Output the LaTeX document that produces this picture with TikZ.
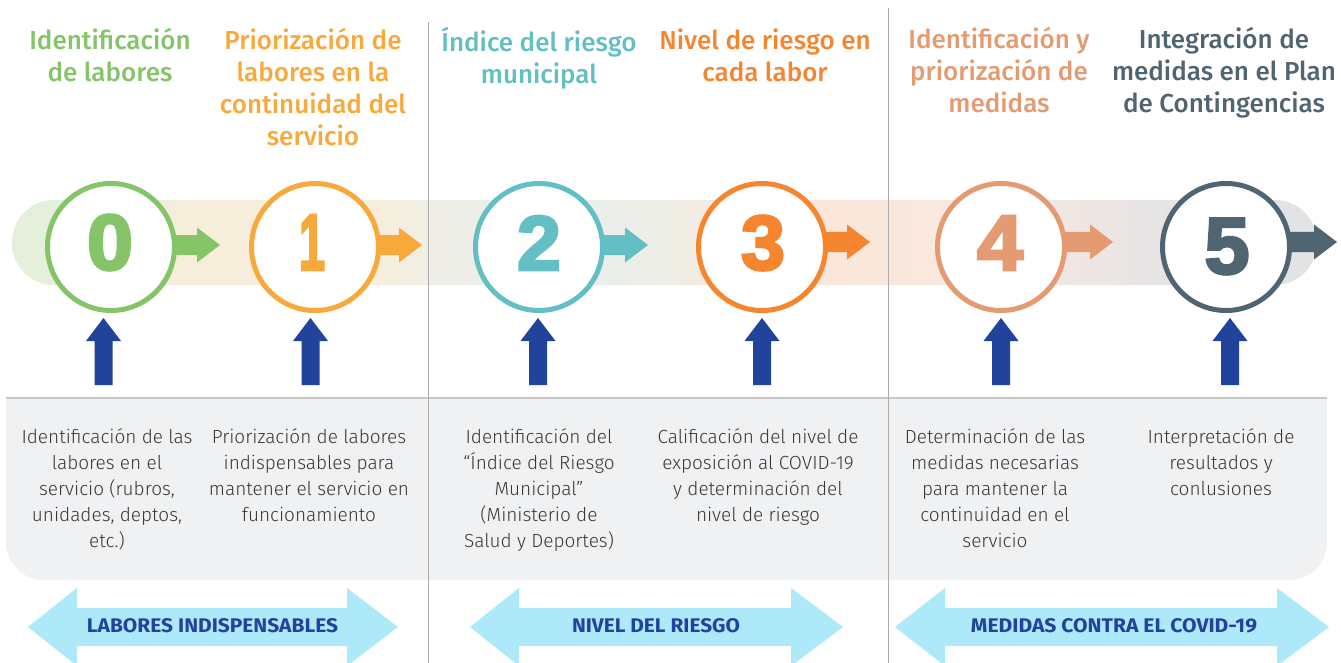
\documentclass[tikz,border=0pt]{standalone}
\usepackage{fontspec}
\usepackage{graphicx}
\setmainfont{Fira Sans Light}
\newfontfamily\headfont{Fira Sans Medium}
\newfontfamily\labfont{Fira Sans Bold}
\newfontfamily\digitfont{Liberation Sans Bold}[FakeBold=3.5]
\newcommand\mlines[1]{\begin{tabular}[t]{@{}c@{}}#1\end{tabular}}
\definecolor{cgreen}{HTML}{86C46A}
\definecolor{cyell}{HTML}{F7A93B}
\definecolor{cteal}{HTML}{63BFC3}
\definecolor{corange}{HTML}{F5852F}
\definecolor{csalmon}{HTML}{E49B72}
\definecolor{cslate}{HTML}{506572}
\definecolor{cblue}{HTML}{22439B}
\definecolor{clight}{HTML}{AEE9F9}
\definecolor{cpanel}{HTML}{F0F1F3}
\definecolor{cbody}{HTML}{383838}
\definecolor{csep}{HTML}{ABABAB}
\definecolor{bA}{HTML}{E5F0DC}
\definecolor{bB}{HTML}{F6EEDB}
\definecolor{bC}{HTML}{F7EEDC}
\definecolor{bD}{HTML}{EEEEE6}
\definecolor{bE}{HTML}{E7EFEB}
\definecolor{bF}{HTML}{FBE6D7}
\definecolor{bG}{HTML}{F8E8DF}
\definecolor{bH}{HTML}{EEE6E4}
\definecolor{bI}{HTML}{E1E3E5}
% the middle 50bp (25..75) of the shading is mapped on the band
\pgfdeclarehorizontalshading{bandshade}{100bp}{color(0bp)=(bA); color(25bp)=(bA); color(28.5bp)=(bA); color(31.5bp)=(bB); color(39bp)=(bC); color(41.5bp)=(bD); color(46bp)=(bE); color(50bp)=(bD); color(54bp)=(bF); color(61bp)=(bG); color(66.5bp)=(bH); color(70.5bp)=(bI); color(75bp)=(bI); color(100bp)=(bI)}
\tikzset{
  heading/.style={anchor=base, inner sep=0pt, font=\headfont\fontsize{26}{32}\selectfont},
  bodytext/.style={anchor=base, inner sep=0pt, text=cbody, font=\fontsize{19}{26}\selectfont},
  stepcircle/.style={circle, minimum size=127pt, inner sep=0pt, line width=5pt, fill=white},
  digit/.style={inner sep=0pt},
  barlabel/.style={inner sep=0pt, text=cblue},
  sepline/.style={draw=csep, line width=1.2pt},
}
\begin{document}
\begin{tikzpicture}[x=1pt,y=-1pt]
\useasboundingbox (0,0) rectangle (1341,663);
\fill[white] (0,0) rectangle (1341,663);
% band
\shade[shading=bandshade, rounded corners=42pt] (12,200) rectangle (1317,285);
% panel
\fill[cpanel, rounded corners=38pt] (6,398) -- (6,580) -- (1327,580) -- (1327,398);
\draw[color=black!22, line width=1.5pt] (6,398) -- (1327,398);
% small right arrows
\foreach \cx/\hb/\tp/\yc/\col in {111/197/220/245/cgreen, 315/399/422/245/cyell, 539/625/648/245/cteal, 762/847/870/242/corange, 1001/1090/1113/242/csalmon, 1226/1314/1337/242/cslate}{
  \fill[\col] (\cx,\yc-10) -- (\hb,\yc-10) -- (\hb,\yc-17.5) -- (\tp,\yc) -- (\hb,\yc+17.5) -- (\hb,\yc+10) -- (\cx,\yc+10) -- cycle;
}
% circles
\node[stepcircle, draw=cgreen] (c0) at (111,247) {};
\node[stepcircle, draw=cyell] (c1) at (315,247) {};
\node[stepcircle, draw=cteal] (c2) at (539,247) {};
\node[stepcircle, draw=corange] (c3) at (762,247) {};
\node[stepcircle, draw=csalmon] (c4) at (1001,247) {};
\node[stepcircle, draw=cslate] (c5) at (1226,247) {};
% digits
\node[digit, text=cgreen] (d0) at (110,242.5) {\resizebox{46pt}{55pt}{\digitfont 0}};
\node[digit, text=cyell] (d1) at (312,242.5) {\resizebox{26pt}{55pt}{\digitfont 1}};
\node[digit, text=cteal] (d2) at (539,243) {\resizebox{44pt}{54pt}{\digitfont 2}};
\node[digit, text=corange] (d3) at (763,243) {\resizebox{44pt}{54pt}{\digitfont 3}};
\node[digit, text=csalmon] (d4) at (1000,243) {\resizebox{46pt}{54pt}{\digitfont 4}};
\node[digit, text=cslate] (d5) at (1227,246.5) {\resizebox{45pt}{55pt}{\digitfont 5}};
% blue up arrows
\foreach \x in {103.5, 310.5, 538, 762, 1001, 1230}{
  \fill[cblue] (\x,318) -- (\x+17.5,341) -- (\x+9,341) -- (\x+9,385) -- (\x-9,385) -- (\x-9,341) -- (\x-17.5,341) -- cycle;
}
% headings
\node[heading, text=cgreen] (h0) at (110,50) {\mlines{Identificación\\de labores}};
\node[heading, text=cyell] (h1) at (313,50) {\mlines{Priorización de\\labores en la\\continuidad del\\servicio}};
\node[heading, text=cteal] (h2) at (539,52) {\mlines{Índice del riesgo\\municipal}};
\node[heading, text=corange] (h3) at (765,50) {\mlines{Nivel de riesgo en\\cada labor}};
\node[heading, text=csalmon] (h4) at (999,49) {\mlines{Identificación y\\priorización de\\medidas}};
\node[heading, text=cslate] (h5) at (1224,49) {\mlines{Integración de\\medidas en el Plan\\de Contingencias}};
% body texts
\node[bodytext] (t0) at (107,443) {\mlines{Identificación de las\\labores en el\\servicio (rubros,\\unidades, deptos,\\etc.)}};
\node[bodytext] (t1) at (309,443) {\mlines{Priorización de labores\\indispensables para\\mantener el servicio en\\funcionamiento}};
\node[bodytext] (t2) at (539,443) {\mlines{Identificación del\\“Índice del Riesgo\\Municipal”\\(Ministerio de\\Salud y Deportes)}};
\node[bodytext] (t3) at (758,443) {\mlines{Calificación del nivel de\\exposición al COVID-19\\y determinación del\\nivel de riesgo}};
\node[bodytext] (t4) at (995,443) {\mlines{Determinación de las\\medidas necesarias\\para mantener la\\continuidad en el\\servicio}};
\node[bodytext] (t5) at (1221,443) {\mlines{Interpretación de\\resultados y\\conlusiones}};
% double arrows
\foreach \L/\lb/\rb/\R in {28/77/347/398, 470/519/791/843, 895/945/1277/1329}{
  \fill[clight] (\L,627) -- (\lb,588) -- (\lb,608) -- (\rb,608) -- (\rb,588) -- (\R,627) -- (\rb,666) -- (\rb,646) -- (\lb,646) -- (\lb,666) -- cycle;
}
\node[barlabel] (l0) at (212.5,626) {\resizebox{251pt}{14pt}{\labfont LABORES INDISPENSABLES}};
\node[barlabel] (l1) at (656,626) {\resizebox{168pt}{14pt}{\labfont NIVEL DEL RIESGO}};
\node[barlabel] (l2) at (1114,626) {\resizebox{286pt}{14pt}{\labfont MEDIDAS CONTRA EL COVID-19}};
% separators
\draw[sepline] (428.5,22) -- (428.5,663);
\draw[sepline] (888.5,8) -- (888.5,663);
\end{tikzpicture}
\end{document}
